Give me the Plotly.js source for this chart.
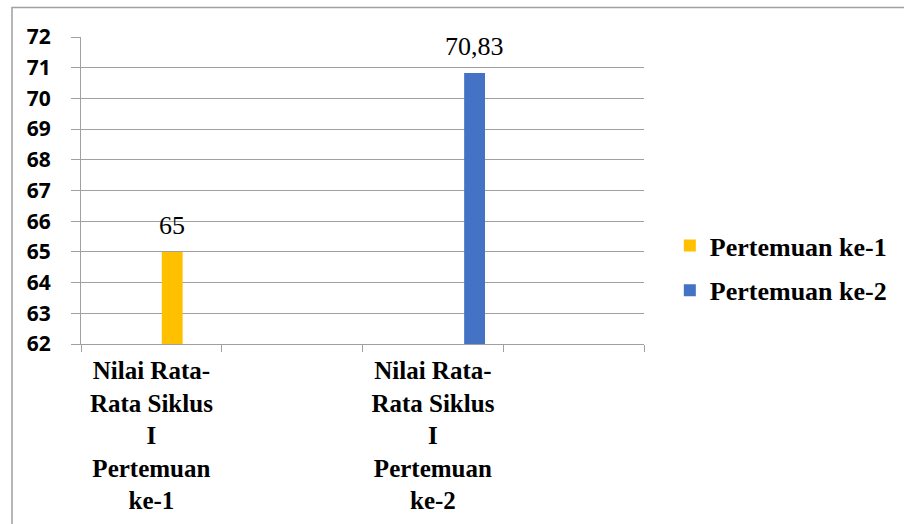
<!DOCTYPE html>
<html>
<head>
<meta charset="utf-8">
<script src="https://cdn.plot.ly/plotly-3.0.1.min.js"></script>
<style>
  html, body { margin: 0; padding: 0; background: #ffffff; }
  #chart { width: 904px; height: 524px; }
</style>
</head>
<body>
<div id="chart"></div>
<script>
// Category labels (two blank slots between and after the two real groups)
const categories = [
  "Nilai Rata-<br>Rata Siklus<br>I<br>Pertemuan<br>ke-1",
  " ",
  "Nilai Rata-<br>Rata Siklus<br>I<br>Pertemuan<br>ke-2",
  "  "
];

// Series values per category
const pertemuan1 = [65, null, null, null];
const pertemuan2 = [null, null, 70.83, null];

const seriesNames = ["Pertemuan ke-1", "Pertemuan ke-2"];
const seriesColors = ["#FFC000", "#4472C4"];
const seriesValues = [pertemuan1, pertemuan2];
const seriesSlots = [3, 4];

// Y axis ticks
const yTicks = [62, 63, 64, 65, 66, 67, 68, 69, 70, 71, 72];

// Bar slot geometry inside each category (column chart with gap width)
const SLOT_COUNT = 5;
const GAP = 1.75;
const barW = 1 / (SLOT_COUNT + GAP);
const slotOffset = k => -0.5 + GAP * barW / 2 + k * barW;

// Page geometry
const W = 904, H = 524;
const M = { l: 81, r: 256, t: 37, b: 180 };
const pw = W - M.l - M.r, ph = H - M.t - M.b;
const paperX = px => (px - M.l) / pw;
const paperY = py => (H - M.b - py) / ph;

const fmt = v => String(v).replace('.', ',');

const traces = seriesValues.map((vals, s) => ({
  type: 'bar',
  name: seriesNames[s],
  x: categories,
  y: vals,
  width: barW,
  offset: slotOffset(seriesSlots[s]),
  marker: { color: seriesColors[s] },
  legendgroup: 'g' + s,
  hoverinfo: 'skip'
}));

const labels = [];
seriesValues.forEach((vals, s) => {
  vals.forEach((v, i) => {
    if (v === null) return;
    labels.push({
      x: i + slotOffset(seriesSlots[s]) + barW / 2,
      y: v,
      xref: 'x', yref: 'y',
      text: fmt(v),
      showarrow: false,
      yanchor: 'bottom',
      yshift: 10,
      font: { family: 'Liberation Serif, Times New Roman, serif', size: 26, color: '#000000' }
    });
  });
});

const layout = {
  width: W, height: H,
  margin: M,
  paper_bgcolor: '#ffffff',
  plot_bgcolor: '#ffffff',
  barmode: 'overlay',
  showlegend: true,
  xaxis: {
    type: 'category',
    categoryorder: 'array',
    categoryarray: categories,
    range: [-0.5, categories.length - 0.5],
    tickson: 'boundaries',
    ticks: 'outside',
    ticklen: 7,
    tickcolor: '#a0a0a0',
    tickwidth: 1,
    showline: true,
    linecolor: '#a0a0a0',
    linewidth: 1,
    showgrid: false,
    zeroline: false,
    ticklabelstandoff: 4,
    tickfont: { family: 'Liberation Serif, Times New Roman, serif', size: 25, color: '#000000', weight: 'bold' },
    fixedrange: true
  },
  yaxis: {
    range: [yTicks[0], yTicks[yTicks.length - 1]],
    tickmode: 'array',
    tickvals: yTicks,
    ticktext: yTicks.map(t => '<b>' + t + '</b>'),
    ticks: 'outside',
    ticklen: 9,
    tickcolor: '#a0a0a0',
    tickwidth: 1,
    showline: true,
    linecolor: '#a0a0a0',
    linewidth: 1,
    showgrid: true,
    gridcolor: '#a0a0a0',
    gridwidth: 1,
    zeroline: false,
    ticklabelstandoff: 16,
    tickfont: { family: 'Open Sans, Liberation Sans, sans-serif', size: 21, color: '#000000', weight: 'bold' },
    fixedrange: true
  },
  legend: {
    x: paperX(674),
    xanchor: 'left',
    y: paperY(268),
    yanchor: 'middle',
    traceorder: 'grouped',
    tracegroupgap: 8,
    font: { family: 'Liberation Serif, Times New Roman, serif', size: 26, color: '#000000', weight: 'bold' },
    bgcolor: 'rgba(0,0,0,0)',
    itemclick: false,
    itemdoubleclick: false
  },
  annotations: labels,
  shapes: [{
    type: 'rect',
    xref: 'paper', yref: 'paper',
    x0: paperX(11.5), x1: paperX(W + 40),
    y0: paperY(H + 40), y1: paperY(7.5),
    line: { color: '#a0a0a0', width: 1.5 },
    fillcolor: 'rgba(0,0,0,0)',
    layer: 'below'
  }]
};

Plotly.newPlot('chart', traces, layout, { staticPlot: true, displayModeBar: false });
</script>
</body>
</html>
